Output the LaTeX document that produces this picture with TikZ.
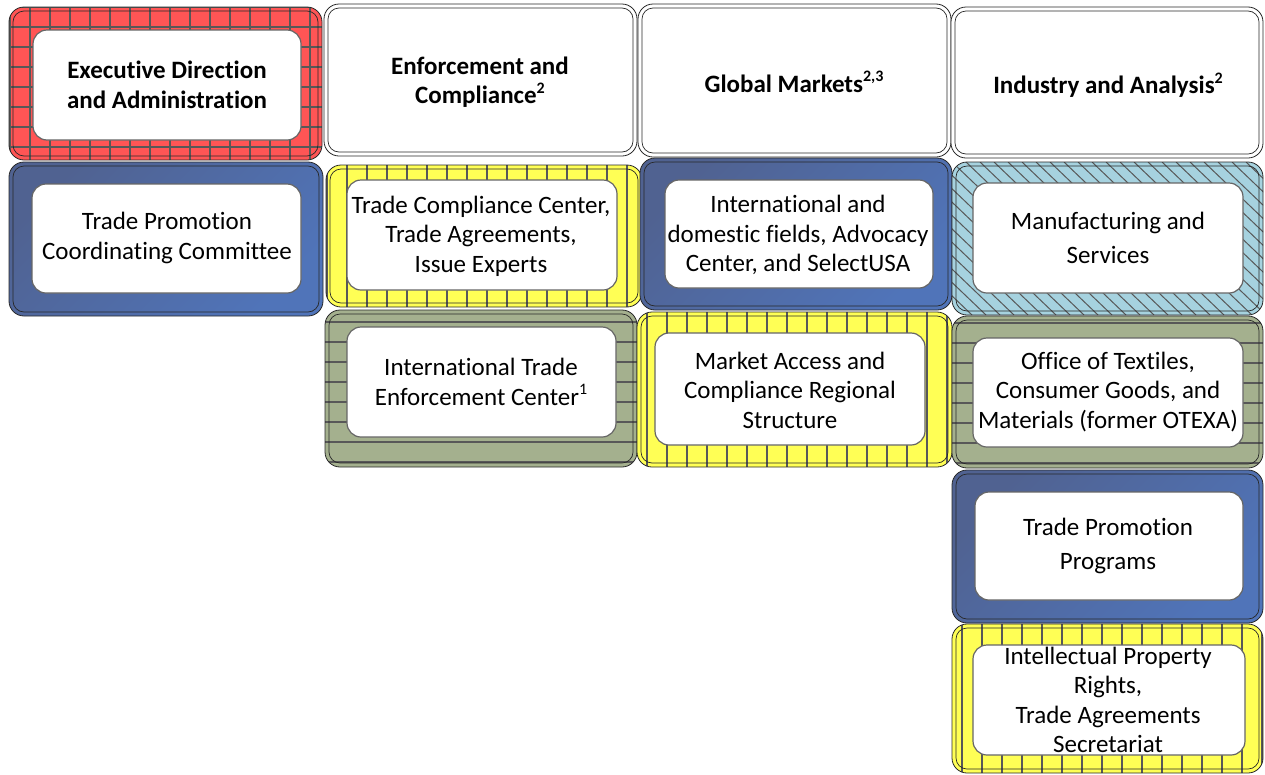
\documentclass[tikz,border=0pt]{standalone}
\usepackage{fontspec}
\setmainfont{Carlito}[Ligatures=NoCommon]
\usetikzlibrary{fit}
\definecolor{redc}{RGB}{255,85,85}
\definecolor{yelc}{RGB}{255,255,85}
\definecolor{grnc}{RGB}{164,176,142}
\definecolor{lbluc}{RGB}{166,210,223}
\definecolor{bluA}{RGB}{80,98,145}
\definecolor{bluB}{RGB}{80,116,185}
\definecolor{patc}{RGB}{88,88,88}
\definecolor{edgec}{RGB}{40,40,40}
\newcommand\innerline{\draw[edgec, line width=0.7pt, rounded corners=11pt] ([shift={(4pt,4pt)}]path picture bounding box.south west) rectangle ([shift={(-4pt,-4pt)}]path picture bounding box.north east);}
\newcommand\supx[1]{\raisebox{0.42em}{\fontsize{16}{16}\selectfont #1}}
\tikzset{
  outer/.style={rounded corners=15pt, draw=edgec, line width=0.8pt, inner sep=0pt},
  patline/.style={draw=patc, line width=1.6pt},
  whitehead/.style={outer, fill=white, path picture={\innerline}},
  redgrid/.style={outer, fill=redc, path picture={
     \foreach \k in {0,...,16}{
       \draw[patline] ([xshift={\k*20pt+1pt}]path picture bounding box.south west) -- ([xshift={\k*20pt+1pt}]path picture bounding box.north west);
       \draw[patline] ([yshift={\k*20pt+13pt}]path picture bounding box.south west) -- ([yshift={\k*20pt+13pt}]path picture bounding box.south east);}
     \innerline}},
  yelv/.style={outer, fill=yelc, path picture={
     \foreach \k in {0,...,16}{
       \draw[patline] ([xshift={\k*20pt+#1}]path picture bounding box.south west) -- ([xshift={\k*20pt+#1}]path picture bounding box.north west);}
     \innerline}},
  grnh/.style={outer, fill=grnc, path picture={
     \foreach \k in {0,...,9}{
       \draw[patline] ([yshift={\k*20pt+#1}]path picture bounding box.south west) -- ([yshift={\k*20pt+#1}]path picture bounding box.south east);}
     \innerline}},
  lbdiag/.style={outer, fill=lbluc, path picture={
     \foreach \k in {-12,...,24}{
       \draw[draw=patc, line width=1pt] ([xshift={\k*14pt}]path picture bounding box.north west) -- ([xshift={\k*14pt+160pt}]path picture bounding box.south west);}
     \innerline}},
  blueg/.style={outer, top color=bluA, bottom color=bluB, shading angle=45, path picture={\innerline}},
  innerbox/.style={rounded corners=14pt, draw=black!60, line width=1.2pt, fill=white, inner sep=0pt},
  txt/.style={align=center, font=\fontsize{25}{29.5}\selectfont, inner sep=0pt},
  btxt/.style={txt, font=\fontsize{25}{29.5}\selectfont\bfseries}
}
\begin{document}
\begin{tikzpicture}[x=1pt, y=-1pt]
\useasboundingbox (0,0) rectangle (1265,774);
% column 1
\node[redgrid, fit={(9,7) (322,160)}] (o11) {};
\node[innerbox, fit={(33,30) (301,140)}] (i11) {};
\node[btxt] (t11) at (167,85) {Executive Direction\\and Administration};
\node[blueg, fit={(9,162) (323,316)}] (o12) {};
\node[innerbox, fit={(32,184) (301,293)}] (i12) {};
\node[txt] (t12) at (167,238) {Trade Promotion\\Coordinating Committee};
% column 2
\node[whitehead, fit={(324,4) (637,156)}] (o21) {};
\node[btxt] (t21) at (480,82) {Enforcement and\\Compliance\supx{2}};
\node[yelv=1pt, fit={(326,165) (642,307)}] (o22) {};
\node[innerbox, fit={(347,180) (617,290)}] (i22) {};
\node[txt] (t22) at (481,236) {Trade Compliance Center,\\Trade Agreements,\\Issue Experts};
\node[grnh=5pt, fit={(325,310) (637,467)}] (o23) {};
\node[innerbox, fit={(347,327) (616,437)}] (i23) {};
\node[txt] (t23) at (481,382) {International Trade\\Enforcement Center\supx{1}};
% column 3
\node[whitehead, fit={(638,4) (951,157)}] (o31) {};
\node[btxt] (t31) at (794,82) {Global Markets\supx{2,3}};
\node[blueg, fit={(640,158) (952,310)}] (o32) {};
\node[innerbox, fit={(665,180) (933,288)}] (i32) {};
\node[txt] (t32) at (798,235) {International and\\domestic fields, Advocacy\\Center, and SelectUSA};
\node[yelv=10pt, fit={(637,312) (952,467)}] (o33) {};
\node[innerbox, fit={(655,333) (925,445)}] (i33) {};
\node[txt] (t33) at (790,390) {Market Access and\\Compliance Regional\\Structure};
% column 4
\node[whitehead, fit={(951,7) (1263,158)}] (o41) {};
\node[btxt] (t41) at (1108,85) {Industry and Analysis\supx{2}};
\node[lbdiag, fit={(952,162) (1263,315)}] (o42) {};
\node[innerbox, fit={(973,183) (1243,293)}] (i42) {};
\node[txt] (t42) at (1108,238) {Manufacturing and\\[4.5pt]Services};
\node[grnh=5pt, fit={(952,316) (1263,468)}] (o43) {};
\node[innerbox, fit={(973,338) (1243,447)}] (i43) {};
\node[txt] (t43) at (1108,392) {Office of Textiles,\\Consumer Goods, and\\Materials (former OTEXA)};
\node[blueg, fit={(952,470) (1263,623)}] (o44) {};
\node[innerbox, fit={(975,492) (1243,600)}] (i44) {};
\node[txt] (t44) at (1108,546) {Trade Promotion\\[4.5pt]Programs};
\node[yelv=10pt, fit={(952,624) (1263,773)}] (o45) {};
\node[innerbox, fit={(973,645) (1245,755)}] (i45) {};
\node[txt] (t45) at (1108,700) {Intellectual Property\\Rights,\\Trade Agreements\\Secretariat};
\end{tikzpicture}
\end{document}
